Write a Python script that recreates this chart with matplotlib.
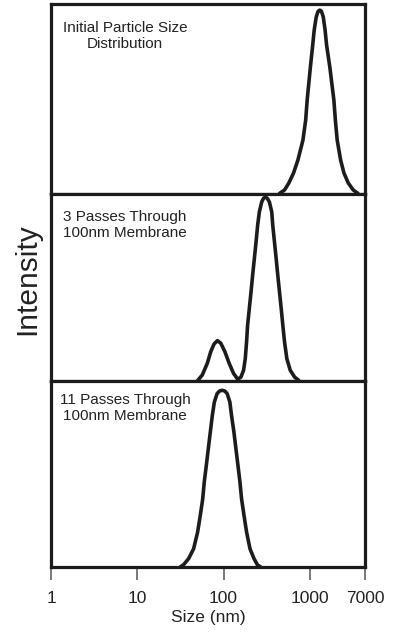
import matplotlib
matplotlib.use("Agg")
import matplotlib.pyplot as plt

plt.rcParams['font.family'] = ['Liberation Sans', 'DejaVu Sans']

# size in nm, intensity in % of panel height
initial_size = [445.6, 509.6, 571.9, 648.9, 728.4, 833, 896, 932.6, 1016, 1081,
                1125, 1188, 1246, 1305, 1366, 1433, 1504, 1566, 1707, 1901,
                1979, 2077, 2276, 2486, 2790, 3192, 3623]
initial_int = [0.3, 2.1, 5.8, 11.1, 17.9, 28.4, 38.9, 49.5, 66.8, 78.4,
               86.3, 93.2, 96.1, 96.8, 96.1, 93.2, 86.3, 78.4, 66.8, 49.5,
               38.9, 28.4, 17.9, 11.1, 5.8, 2.1, 0.3]

pass3_size = [49.6, 56.7, 64.9, 71.1, 77.7, 84.9, 93.0, 103.6, 116.2, 130.5,
              146.1, 159.2, 170.7, 178.6, 185.0, 190.1, 199.0, 208.3, 217.4,
              227.6, 238.2, 248.6, 260.2, 276.8, 289.8, 305.8, 322.8, 340.5,
              362.2, 372.1, 389.5, 407.7, 425.6, 445.6, 466.4, 486.9, 509.6,
              542.0, 593.8, 666.6, 742.0]
pass3_int = [0, 3.2, 9.5, 15.7, 19.8, 21.6, 20.2, 15.7, 9.5, 4.1,
             0.9, 2.1, 5.7, 11.9, 20.9, 29.8, 38.7, 47.6, 56.5,
             65.4, 74.3, 83.3, 90.4, 95.7, 97.6, 98.4, 97.6, 95.7,
             90.4, 83.3, 74.3, 65.4, 56.5, 47.6, 38.7, 29.8, 20.9,
             11.9, 5.7, 2.1, 0.4]

pass11_size = [31.4, 34.4, 39.4, 45.0, 50.1, 53.8, 57.4, 59.8, 63.2, 66.6,
               70.3, 74.2, 78.3, 84.2, 89.6, 96.3, 103.6, 110.2, 118.4, 123.7,
               131.9, 139.2, 146.9, 155.0, 161.8, 172.6, 185.0, 202.7, 225.7,
               246.7, 269.5]
pass11_int = [0, 1.2, 4.5, 9.8, 18.8, 27.8, 36.7, 45.7, 54.7, 63.6,
              72.6, 81.6, 88.7, 93.2, 94.6, 95.0, 94.6, 93.2, 88.7, 81.6,
              72.6, 63.6, 54.7, 45.7, 36.7, 27.8, 18.8, 9.8, 4.5,
              1.2, 0]

labels = ["Initial Particle Size\nDistribution",
          "3 Passes Through\n100nm Membrane",
          "11 Passes Through\n100nm Membrane"]

# the original axis ends at its "7000" tick, which sits where ~4365 falls on a log scale
x_min, x_max = 1, 4365
tick_values = [1, 10, 100, 1000, x_max]
tick_labels = ["1", "10", "100", "1000", "7000"]

ink = '#1c1c1c'
fig = plt.figure(figsize=(4.0, 6.34), dpi=100)

# panel boxes in pixels: (top, bottom)
boxes = [(4, 194), (194, 381), (381, 567)]
series = [(initial_size, initial_int), (pass3_size, pass3_int),
          (pass11_size, pass11_int)]
text_y = [0.832, 0.834, 0.855]

for i, ((top, bot), (xs, ys)) in enumerate(zip(boxes, series)):
    ax = fig.add_axes([51 / 400, 1 - bot / 634, 314 / 400, (bot - top) / 634])
    ax.plot(xs, ys, color=ink, lw=2.6, solid_joinstyle='round',
            solid_capstyle='round')
    ax.set_xscale('log')
    ax.set_xlim(x_min, x_max)
    ax.set_ylim(0, 100)
    ax.set_yticks([])
    for s in ax.spines.values():
        s.set_linewidth(2.3)
        s.set_color(ink)
    ax.text(0.236, text_y[i], labels[i], transform=ax.transAxes,
            ha='center', va='center', fontsize=11, color='#222222',
            linespacing=1.2, multialignment='center')
    ax.minorticks_off()
    if i < 2:
        ax.set_xticks([])
    else:
        ax.set_xticks(tick_values)
        ax.set_xticklabels(tick_labels, fontsize=12.5, color='#222222')
        ax.tick_params(axis='x', which='major', direction='out', length=9.5,
                       width=1.1, color='#555555', pad=8)
        ax.set_xlabel('Size (nm)', fontsize=12.5, color='#222222', labelpad=3)

fig.text(27 / 400, 1 - 279 / 634, 'Intensity', rotation=90, ha='center',
         va='center', fontsize=21.5, color='#222222')

fig.savefig('out.png', dpi=100, facecolor='white')
